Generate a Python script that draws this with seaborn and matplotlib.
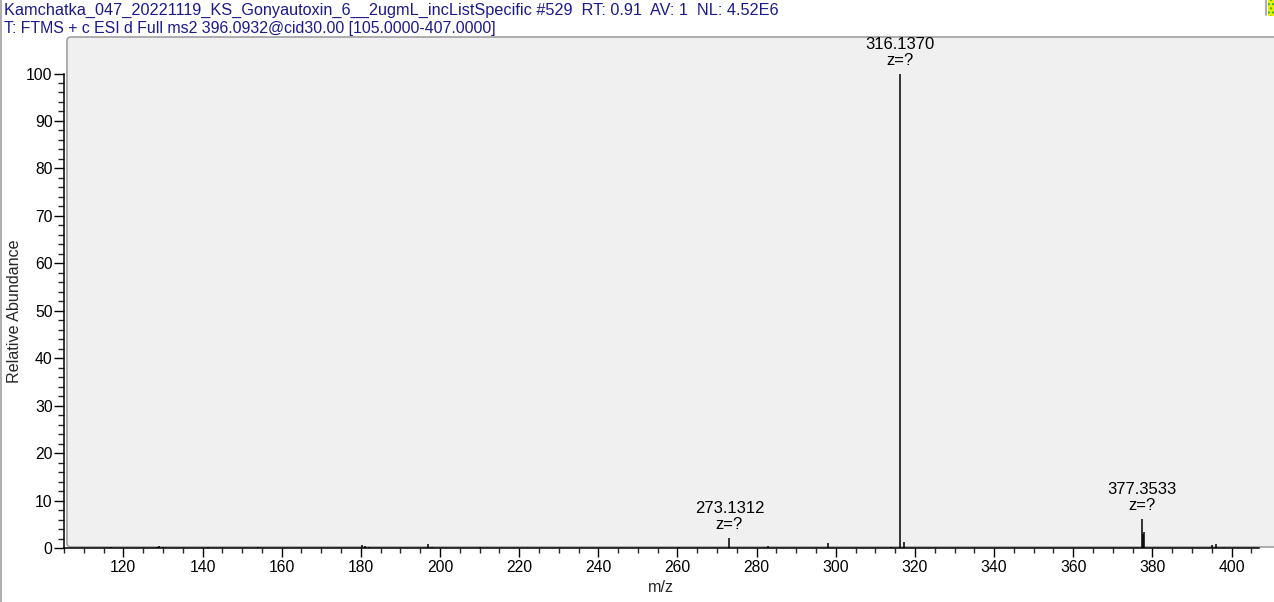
import matplotlib
matplotlib.use('Agg')
import matplotlib.pyplot as plt
import matplotlib.transforms as mtransforms
from matplotlib.patches import FancyBboxPatch, Rectangle
from matplotlib.lines import Line2D
from matplotlib.ticker import MultipleLocator
import seaborn as sns
import pandas as pd

# header text of the spectrum
title_line1 = "Kamchatka_047_20221119_KS_Gonyautoxin_6__2ugmL_incListSpecific #529  RT: 0.91  AV: 1  NL: 4.52E6"
title_line2 = "T: FTMS + c ESI d Full ms2 396.0932@cid30.00 [105.0000-407.0000]"

# centroid peaks (m/z, relative abundance)
peak_mz = [116.8, 128.4, 128.9, 130.1, 141.5, 153.9, 180.2, 181.1, 182.1,
           197.0, 197.9, 210.1, 226.0, 260.4, 273.1312, 282.9, 298.12,
           314.0, 316.1370, 317.14, 377.3533, 377.62, 377.85, 395.1, 396.0]
peak_int = [0.2, 0.3, 0.35, 0.2, 0.15, 0.2, 0.7, 0.4, 0.3,
            0.9, 0.3, 0.15, 0.1, 0.25, 2.2, 0.35, 1.0,
            0.3, 100.0, 1.2, 6.1, 2.9, 3.4, 0.6, 0.8]

# annotated peaks
label_mz = [273.1312, 316.1370, 377.3533]
label_int = [2.2, 100.0, 6.1]

df = pd.DataFrame({'mz': peak_mz, 'intensity': peak_int})

sns.set_style('ticks')
plt.rcParams['font.family'] = ['Liberation Sans', 'DejaVu Sans']

W, H = 1274, 602
fig = plt.figure(figsize=(W / 100, H / 100), dpi=100)
fig.patch.set_facecolor('white')

# pixel coordinates, origin at top-left
px = mtransforms.Affine2D().scale(1, -1).translate(0, H).scale(1 / W, 1 / H) + fig.transFigure

# grey panel behind the spectrum
panel = FancyBboxPatch((67, 37), 1230, 510, boxstyle='round,pad=0,rounding_size=4',
                       transform=px, facecolor='#f0f0f0', edgecolor='#a0a0a0',
                       linewidth=1.2, zorder=0)
fig.patches.append(panel)
fig.lines.append(Line2D([0.7, 0.7], [0, H], transform=px, color='#a0a0a0', lw=1.2))
fig.lines.append(Line2D([1266, 1266], [0, 15], transform=px, color='#a0a0a0', lw=1.2))
fig.patches.append(Rectangle((1268, 0), 8, 16, transform=px, facecolor='#e6f000',
                             edgecolor='#30b030', hatch='....', lw=0))

ax = fig.add_axes([64 / W, (H - 548) / H, (1259.3 - 64) / W, (548 - 73.5) / H])
ax.set_facecolor('none')
ax.set_zorder(1)

ax.vlines(df['mz'], 0, df['intensity'], color='black', linewidth=1.1, clip_on=False)

for m, i in zip(label_mz, label_int):
    ax.annotate(f"{m:.4f}\nz=?", xy=(m, i), xytext=(0, 4), textcoords='offset points',
                ha='center', va='bottom', fontsize=12, linespacing=1.1,
                color='black', annotation_clip=False)

ax.set_xlim(105, 407)
ax.set_ylim(0, 100)
ax.xaxis.set_major_locator(MultipleLocator(20))
ax.xaxis.set_minor_locator(MultipleLocator(5))
ax.yaxis.set_major_locator(MultipleLocator(10))
ax.yaxis.set_minor_locator(MultipleLocator(2))
ax.tick_params(axis='x', which='major', length=6.5, width=1, pad=2.5, labelsize=11.3, colors='black')
ax.tick_params(axis='x', which='minor', length=3.6, width=1)
ax.tick_params(axis='y', which='major', length=7.2, width=1, pad=1, labelsize=11.3, colors='black')
ax.tick_params(axis='y', which='minor', length=4.3, width=1)
sns.despine(ax=ax)
for s in ['left', 'bottom']:
    ax.spines[s].set_linewidth(1.1)
    ax.spines[s].set_color('black')

ax.set_xlabel('m/z', fontsize=11.6)
ax.set_ylabel('Relative Abundance', fontsize=11.6)
ax.xaxis.set_label_coords(661, 588, transform=px)
ax.yaxis.set_label_coords(15, 311, transform=px)
ax.xaxis.label.set_va('center')
ax.yaxis.label.set_va('center')

fig.text(4, 10, title_line1, transform=px, fontsize=11.7, color='#1a1a8c', ha='left', va='center')
fig.text(4, 29, title_line2, transform=px, fontsize=11.4, color='#1a1a8c', ha='left', va='center')

fig.savefig('out.png', dpi=100, facecolor='white')
